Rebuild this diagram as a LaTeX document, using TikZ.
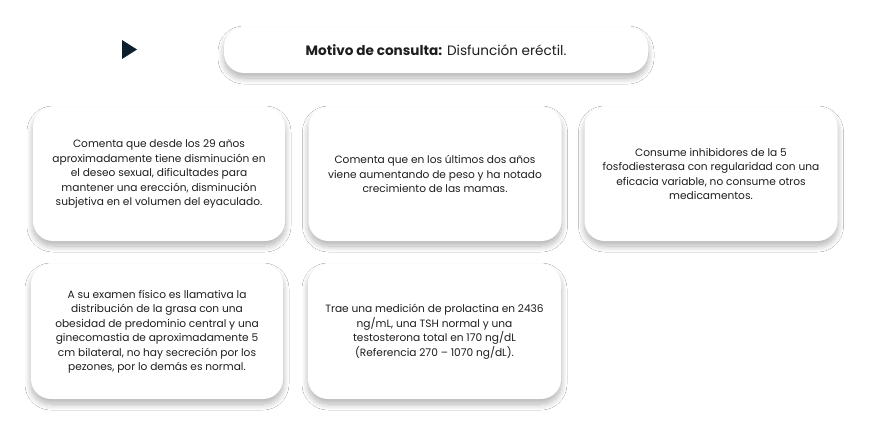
\documentclass[tikz,border=0pt]{standalone}
\usepackage{fontspec}
\setmainfont{Poppins}
\usetikzlibrary{shadows.blur}
\definecolor{navy}{HTML}{0D1F2D}
\definecolor{txt}{HTML}{1E1E1E}
\tikzset{
  card/.style={draw=none, fill=white, rounded corners=20pt,
    blur shadow={shadow xshift=0pt, shadow yshift=-5pt, shadow blur radius=6pt, shadow blur steps=12, shadow opacity=30},
    text=txt, align=center, font=\fontsize{10.6}{14.5}\selectfont, inner sep=0pt},
}
\begin{document}
\begin{tikzpicture}[x=1pt,y=-1pt]
\useasboundingbox[fill=white] (0,0) rectangle (869,436);
% header
\node[card, minimum width=424pt, minimum height=46pt, font=\fontsize{13.6}{16}\selectfont] (head) at (436,50)
  {\textbf{Motivo de consulta:} Disfunción eréctil.};
\fill[navy] (122,40) -- (137,49.5) -- (122,59) -- cycle;
\node[card, minimum width=252pt, minimum height=134pt] (b1) at (159,174)
  {Comenta que desde los 29 años\\aproximadamente tiene disminución en\\el deseo sexual, dificultades para\\mantener una erección, disminución\\subjetiva en el volumen del eyaculado.};
\node[card, minimum width=253pt, minimum height=134pt] (b2) at (435,174)
  {Comenta que en los últimos dos años\\viene aumentando de peso y ha notado\\crecimiento de las mamas.};
\node[card, minimum width=253pt, minimum height=134pt] (b3) at (711,174)
  {Consume inhibidores de la 5\\fosfodiesterasa con regularidad con una\\eficacia variable, no consume otros\\medicamentos.};
\node[card, minimum width=252pt, minimum height=135pt] (b4) at (157,331.5)
  {A su examen físico es llamativa la\\distribución de la grasa con una\\obesidad de predominio central y una\\ginecomastia de aproximadamente 5\\cm bilateral, no hay secreción por los\\pezones, por lo demás es normal.};
\node[card, minimum width=253pt, minimum height=135pt] (b5) at (434.5,331.5)
  {Trae una medición de prolactina en 2436\\ng/mL, una TSH normal y una\\testosterona total en 170 ng/dL\\(Referencia 270 – 1070 ng/dL).};
\end{tikzpicture}
\end{document}
